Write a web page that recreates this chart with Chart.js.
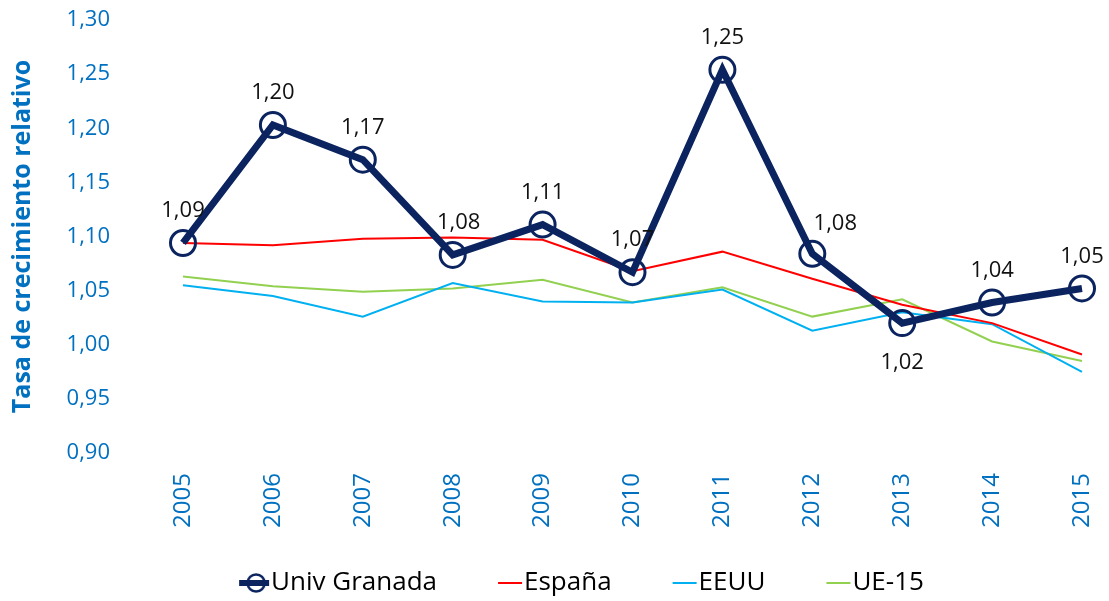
<!DOCTYPE html>
<html>
<head>
<meta charset="utf-8">
<script src="https://cdn.jsdelivr.net/npm/chart.js@4.4.1/dist/chart.umd.min.js"></script>
<style>
  html, body { margin: 0; padding: 0; background: #fff; }
  #wrap { width: 1109px; height: 601px; }
</style>
</head>
<body>
<div id="wrap"><canvas id="chart" width="1109" height="601"></canvas></div>
<script>
const years    = ['2005', '2006', '2007', '2008', '2009', '2010', '2011', '2012', '2013', '2014', '2015'];
const granada  = [1.094, 1.203, 1.171, 1.083, 1.111, 1.067, 1.254, 1.084, 1.020, 1.039, 1.052];
const espana   = [1.094, 1.092, 1.098, 1.099, 1.097, 1.068, 1.086, 1.061, 1.037, 1.020, 0.991];
const eeuu     = [1.055, 1.045, 1.026, 1.057, 1.040, 1.039, 1.051, 1.013, 1.030, 1.019, 0.975];
const ue15     = [1.063, 1.054, 1.049, 1.052, 1.060, 1.039, 1.053, 1.026, 1.042, 1.003, 0.985];
const Y_MIN = 0.90, Y_MAX = 1.30, Y_STEP = 0.05;

const NAVY  = '#0b2460';
const BLUE  = '#0070c0';
const LABEL_BELOW = [8];          // 2013 label sits under the point
const LABEL_NUDGE = { 3: 6, 7: 23 }; // labels pushed right of the line

const fmt = v => v.toFixed(2).replace('.', ',');

Chart.defaults.font.family = "'Open Sans', sans-serif";

const PAD_LEFT = 26;       // shifts the centred legend right; y axis width compensates
const LEG_FS = 26, LEG_BW = 74;
// legend marker drawn at right end of an image wider than the box
function marker(color, withCircle) {
  const W = LEG_BW + LEG_FS, H = 30;
  const c = document.createElement('canvas');
  c.width = W; c.height = H;
  const g = c.getContext('2d');
  const end = W - 2;
  if (withCircle) {
    g.strokeStyle = color; g.lineWidth = 6;
    g.beginPath(); g.moveTo(end - 30, H / 2); g.lineTo(end, H / 2); g.stroke();
    g.lineWidth = 2.5;
    g.beginPath(); g.arc(end - 13, H / 2, 8.5, 0, Math.PI * 2); g.stroke();
  } else {
    g.strokeStyle = color; g.lineWidth = 2;
    g.beginPath(); g.moveTo(end - 24, H / 2); g.lineTo(end, H / 2); g.stroke();
  }
  return c;
}

const valueLabels = {
  id: 'valueLabels',
  afterDatasetsDraw(chart) {
    const ctx = chart.ctx;
    const meta = chart.getDatasetMeta(0);
    ctx.save();
    ctx.font = "22px 'Open Sans', sans-serif";
    ctx.fillStyle = '#111';
    ctx.textAlign = 'center';
    ctx.textBaseline = 'middle';
    meta.data.forEach((pt, i) => {
      const dy = LABEL_BELOW.includes(i) ? 40 : (LABEL_NUDGE[i] > 20 ? -30 : -32);
      const dx = LABEL_NUDGE[i] || 0;
      ctx.fillText(fmt(granada[i]), pt.x + dx, pt.y + dy);
    });
    ctx.restore();
  }
};

const chart = new Chart(document.getElementById('chart'), {
  type: 'line',
  data: {
    labels: years,
    datasets: [
      { label: 'Univ Granada', data: granada, borderColor: NAVY, borderWidth: 7,
        pointRadius: 12.5, pointBorderWidth: 3, pointBorderColor: NAVY,
        pointBackgroundColor: 'rgba(0,0,0,0)', pointStyle: 'circle', tension: 0,
        legendMarker: marker(NAVY, true) },
      { label: 'España', data: espana, borderColor: '#ff0000', borderWidth: 2, pointRadius: 0,
        tension: 0, legendMarker: marker('#ff0000', false) },
      { label: 'EEUU', data: eeuu, borderColor: '#00b0f0', borderWidth: 2, pointRadius: 0,
        tension: 0, legendMarker: marker('#00b0f0', false) },
      { label: 'UE-15', data: ue15, borderColor: '#92d050', borderWidth: 2, pointRadius: 0,
        tension: 0, legendMarker: marker('#92d050', false) }
    ]
  },
  options: {
    responsive: false,
    animation: false,
    layout: { padding: { top: 20, right: 27, left: PAD_LEFT, bottom: -5 } },
    elements: { point: { hoverRadius: 12.5 } },
    plugins: {
      tooltip: { enabled: false },
      legend: {
        position: 'bottom',
        labels: {
          usePointStyle: true,
          pointStyleWidth: LEG_BW,
          padding: 0,
          color: '#000',
          font: { size: LEG_FS },
          generateLabels(ch) {
            return ch.data.datasets.map((ds, i) => ({
              text: ds.label, pointStyle: ds.legendMarker, datasetIndex: i,
              lineWidth: 0, strokeStyle: 'rgba(0,0,0,0)', fillStyle: 'rgba(0,0,0,0)'
            }));
          }
        }
      }
    },
    scales: {
      x: {
        grid: { display: false, drawTicks: true, tickLength: 20 },
        border: { display: false },
        ticks: { color: BLUE, font: { size: 24 }, minRotation: 90, maxRotation: 90, padding: 0 },
        afterFit(s) { s.height = 117; s.paddingLeft = 0; s.paddingRight = 0; }
      },
      y: {
        min: Y_MIN, max: Y_MAX,
        grid: { display: false, drawTicks: true, tickLength: 68 },
        border: { display: false },
        ticks: { stepSize: Y_STEP, color: BLUE, font: { size: 22 }, padding: 5, callback: v => fmt(v) },
        title: { display: true, text: 'Tasa de crecimiento relativo', color: BLUE,
                 font: { size: 25, weight: 'bold' }, padding: { top: 8 - PAD_LEFT, bottom: 0 } },
        afterFit(s) { s.width = 183 - PAD_LEFT; }
      }
    }
  },
  plugins: [valueLabels]
});
</script>
</body>
</html>
